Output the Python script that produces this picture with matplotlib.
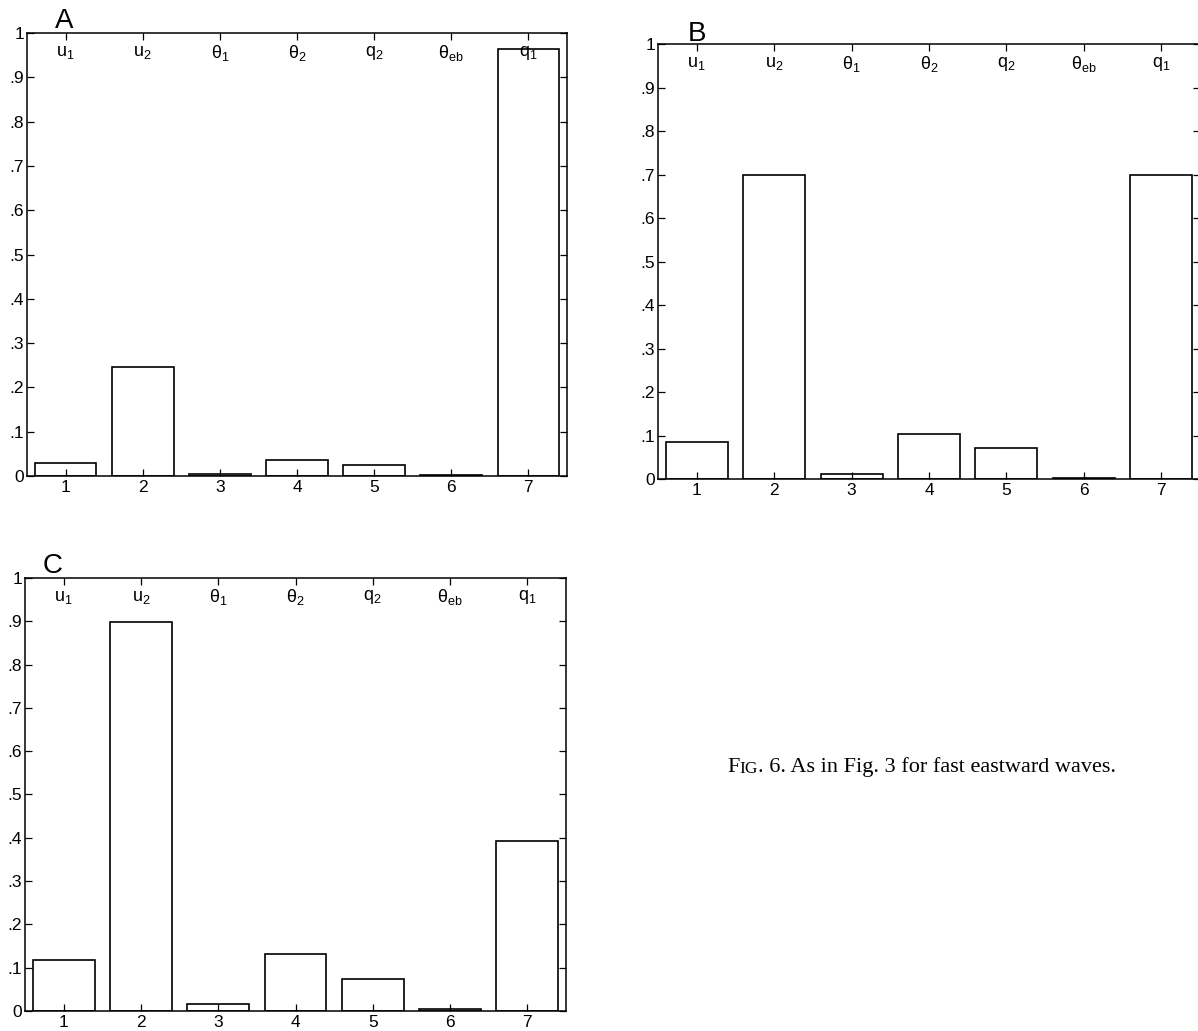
import numpy as np
import matplotlib.pyplot as plt

plt.rcParams['font.family'] = ['Liberation Sans', 'DejaVu Sans']
plt.rcParams['mathtext.fontset'] = 'custom'
plt.rcParams['mathtext.rm'] = 'Liberation Sans'
plt.rcParams['mathtext.it'] = 'Liberation Sans'
plt.rcParams['mathtext.sf'] = 'Liberation Sans'

# data
positions = [1, 2, 3, 4, 5, 6, 7]
var_labels = [r'$\mathrm{u}_1$', r'$\mathrm{u}_2$', r'$\mathrm{\theta}_1$', r'$\mathrm{\theta}_2$',
              r'$\mathrm{q}_2$', r'$\mathrm{\theta}_{\mathrm{eb}}$', r'$\mathrm{q}_1$']
values_a = [0.030, 0.247, 0.005, 0.036, 0.025, 0.002, 0.965]
values_b = [0.085, 0.699, 0.012, 0.103, 0.071, 0.003, 0.699]
values_c = [0.118, 0.898, 0.016, 0.132, 0.074, 0.005, 0.392]
yticks = [0, 0.1, 0.2, 0.3, 0.4, 0.5, 0.6, 0.7, 0.8, 0.9, 1.0]
ytick_labels = ['0', '.1', '.2', '.3', '.4', '.5', '.6', '.7', '.8', '.9', '1']

fig = plt.figure(figsize=(11.98, 10.31), dpi=100)

# [left, bottom, width, height] in figure fraction, then panel letter spot in axes fraction
panels = [
    ('A', values_a, [0.02254, 0.53831, 0.45075, 0.42968], (0.052, 1.011)),
    ('B', values_b, [0.54925, 0.53540, 0.45242, 0.42192], (0.055, 1.007)),
    ('C', values_c, [0.02087, 0.01940, 0.45159, 0.41998], (0.033, 1.011)),
]

for letter, vals, rect, letter_pos in panels:
    ax = fig.add_axes(rect)
    ax.bar(positions, vals, width=0.8, color='white', edgecolor='black', linewidth=1.2)
    ax.set_xlim(0.5, 7.5)
    ax.set_ylim(0, 1)
    ax.set_xticks(positions)
    ax.set_xticklabels([str(p) for p in positions], fontsize=12.5)
    ax.set_yticks(yticks)
    ax.set_yticklabels(ytick_labels, fontsize=12.5)
    ax.tick_params(direction='in', top=True, right=True, length=5, width=0.9, pad=3)
    ax.tick_params(axis='y', pad=2)
    for s in ax.spines.values():
        s.set_linewidth(1.1)
    for p, lab in zip(positions, var_labels):
        ax.text(p, 0.955, lab, ha='center', va='center', fontsize=13)
    ax.text(letter_pos[0], letter_pos[1], letter, transform=ax.transAxes,
            fontsize=20, ha='left', va='baseline')

# caption with small caps "IG"
t1 = fig.text(0.607, 0.2512, 'F', fontsize=16, family='Liberation Serif', va='baseline')
a1 = plt.annotate('IG', xy=(1, 0), xycoords=t1, fontsize=12.5, family='Liberation Serif',
                  va='bottom', ha='left', annotation_clip=False)
a2 = plt.annotate('. 6. As in Fig. 3 for fast eastward waves.', xy=(1, 0), xycoords=a1,
                  fontsize=16, family='Liberation Serif', va='bottom', ha='left',
                  annotation_clip=False)

fig.savefig('out.png', dpi=100)
